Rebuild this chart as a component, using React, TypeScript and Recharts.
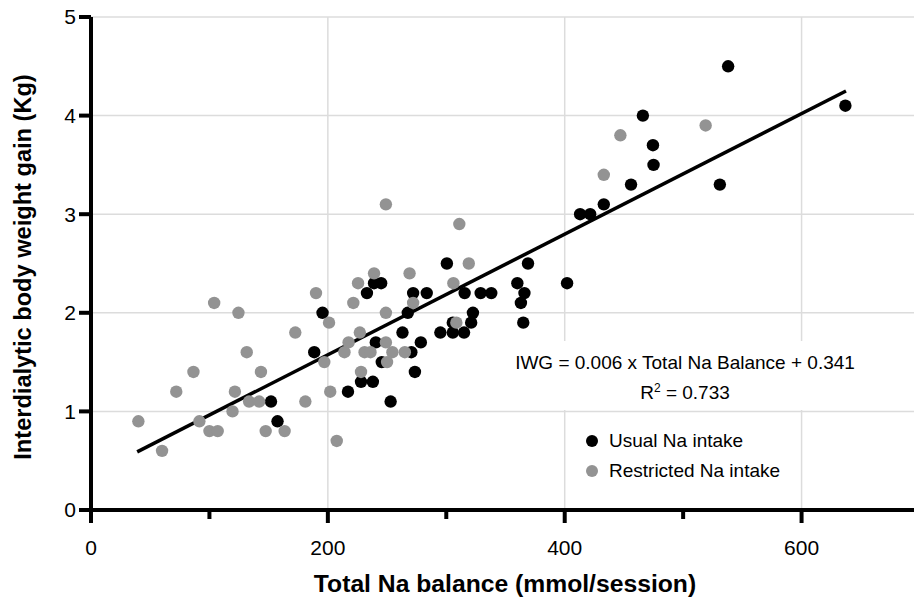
import { ScatterChart, Scatter, XAxis, YAxis, CartesianGrid, ReferenceLine } from 'recharts';

// Usual Na intake (black dots)
const usualNa = [
  152, 157.5, 188.5, 195.5, 217, 228, 238, 233, 239, 245, 240.5, 245.5, 253, 263, 267.5, 270.5,
  272, 273.5, 278.5, 283.5, 295, 300.5, 305.5, 305.5, 315, 315.5, 321, 322.5, 329, 338, 360,
  363, 365, 366, 369, 402, 413, 421.5, 433, 456, 466, 474.5, 475, 531, 538, 637,
];
const usualIwg = [
  1.1, 0.9, 1.6, 2.0, 1.2, 1.3, 1.3, 2.2, 2.3, 2.3, 1.7, 1.5, 1.1, 1.8, 2.0, 1.6,
  2.2, 1.4, 1.7, 2.2, 1.8, 2.5, 1.8, 1.9, 1.8, 2.2, 1.9, 2.0, 2.2, 2.2, 2.3,
  2.1, 1.9, 2.2, 2.5, 2.3, 3.0, 3.0, 3.1, 3.3, 4.0, 3.7, 3.5, 3.3, 4.5, 4.1,
];

// Restricted Na intake (grey dots)
const restrictedNa = [
  40, 60, 72, 86.5, 91.5, 100, 104, 107, 119.5, 121.5, 124.5, 131.5, 133.5, 142, 143.5, 147.5,
  163.5, 172.5, 181, 190, 197, 201, 202, 207.5, 214, 217.5, 221.5, 225.5, 227, 228, 231, 236,
  239, 249, 249, 249, 250, 254.5, 265, 269, 272, 306, 308.5, 311, 319, 433, 447, 519,
];
const restrictedIwg = [
  0.9, 0.6, 1.2, 1.4, 0.9, 0.8, 2.1, 0.8, 1.0, 1.2, 2.0, 1.6, 1.1, 1.1, 1.4, 0.8,
  0.8, 1.8, 1.1, 2.2, 1.5, 1.9, 1.2, 0.7, 1.6, 1.7, 2.1, 2.3, 1.8, 1.4, 1.6, 1.6,
  2.4, 3.1, 2.0, 1.7, 1.5, 1.6, 1.6, 2.4, 2.1, 2.3, 1.9, 2.9, 2.5, 3.4, 3.8, 3.9,
];

// fitted line as drawn (start / end)
const fitNa = [39, 637.5];
const fitIwg = [0.59, 4.25];

const xTicks = [0, 100, 200, 300, 400, 500, 600, 700];
const xLabels = [0, 200, 400, 600];
const yTicks = [0, 1, 2, 3, 4, 5];

const FONT = '"Liberation Sans", Arial, Helvetica, sans-serif';
const GREY = '#939393';

const usual = usualNa.map((x, i) => ({ x, y: usualIwg[i] }));
const restricted = restrictedNa.map((x, i) => ({ x, y: restrictedIwg[i] }));

function XTick(props: any) {
  const { x, y, payload } = props;
  const v = payload.value;
  const major = xLabels.includes(v);
  return (
    <g>
      <line x1={x} x2={x} y1={y} y2={y + (major ? 13 : 9)} stroke="#000" strokeWidth={4} />
      {major && (
        <text x={x} y={y + 38} dy="0.35em" textAnchor="middle" fontSize={21} fill="#000" fontFamily={FONT}>
          {v}
        </text>
      )}
    </g>
  );
}

const dot = (color: string) => (p: any) => <circle cx={p.cx} cy={p.cy} r={6.2} fill={color} />;

export default function App() {
  return (
    <div style={{ position: 'relative', width: 914, height: 594, fontFamily: FONT, background: '#fff' }}>
      <ScatterChart width={914} height={594} margin={{ top: 9, right: 2, bottom: 0, left: 0 }}>
        <CartesianGrid
          stroke="#dcdcdc"
          strokeWidth={1.5}
          horizontalValues={[1, 2, 3, 4, 5]}
          verticalValues={[200, 400, 600]}
        />
        <XAxis
          type="number"
          dataKey="x"
          domain={[0, 700]}
          ticks={xTicks}
          interval={0}
          height={92}
          axisLine={{ stroke: '#000', strokeWidth: 4 }}
          tickLine={false}
          tickSize={0}
          tickMargin={0}
          tick={<XTick />}
        />
        <YAxis
          type="number"
          dataKey="y"
          domain={[0, 5]}
          ticks={yTicks}
          interval={0}
          width={83}
          axisLine={{ stroke: '#000', strokeWidth: 4 }}
          tickLine={{ stroke: '#000', strokeWidth: 4 }}
          tickSize={12}
          tickMargin={3}
          tick={{ fontSize: 21, fill: '#000', fontFamily: FONT }}
        />
        <Scatter data={usual} fill="#000" shape={dot('#000')} isAnimationActive={false} />
        <Scatter data={restricted} fill={GREY} shape={dot(GREY)} isAnimationActive={false} />
        <ReferenceLine
          segment={[
            { x: fitNa[0], y: fitIwg[0] },
            { x: fitNa[1], y: fitIwg[1] },
          ]}
          stroke="#000"
          strokeWidth={3.5}
        />
      </ScatterChart>

      <div style={{ position: 'absolute', left: 15, top: 259, width: 0, height: 0 }}>
        <div
          style={{
            position: 'absolute',
            transform: 'translate(-50%, -50%) rotate(-90deg)',
            whiteSpace: 'nowrap',
            fontWeight: 'bold',
            fontSize: 23.6,
          }}
        >
          Interdialytic body weight gain (Kg)
        </div>
      </div>

      <div
        style={{
          position: 'absolute',
          left: 0,
          width: 1000,
          top: 562,
          textAlign: 'center',
          fontWeight: 'bold',
          fontSize: 24.7,
          lineHeight: '28px',
          marginLeft: -3,
        }}
      >
        Total Na balance (mmol/session)
      </div>

      <div
        style={{
          position: 'absolute',
          left: 492,
          top: 333,
          width: 370,
          height: 69,
          background: '#fff',
          textAlign: 'center',
          fontSize: 19,
          lineHeight: '30px',
          paddingTop: 7,
          boxSizing: 'border-box',
        }}
      >
        <div>IWG = 0.006 x Total Na Balance + 0.341</div>
        <div>
          R<sup style={{ fontSize: 12, lineHeight: 0 }}>2</sup> = 0.733
        </div>
      </div>

      <div style={{ position: 'absolute', left: 578, top: 418, fontSize: 19, lineHeight: '30px' }}>
        {[
          { label: 'Usual Na intake', color: '#000' },
          { label: 'Restricted Na intake', color: GREY },
        ].map((item) => (
          <div key={item.label} style={{ display: 'flex', alignItems: 'center' }}>
            <span
              style={{
                display: 'inline-block',
                width: 12,
                height: 12,
                borderRadius: 6,
                background: item.color,
                marginRight: 11,
              }}
            />
            {item.label}
          </div>
        ))}
      </div>
    </div>
  );
}
